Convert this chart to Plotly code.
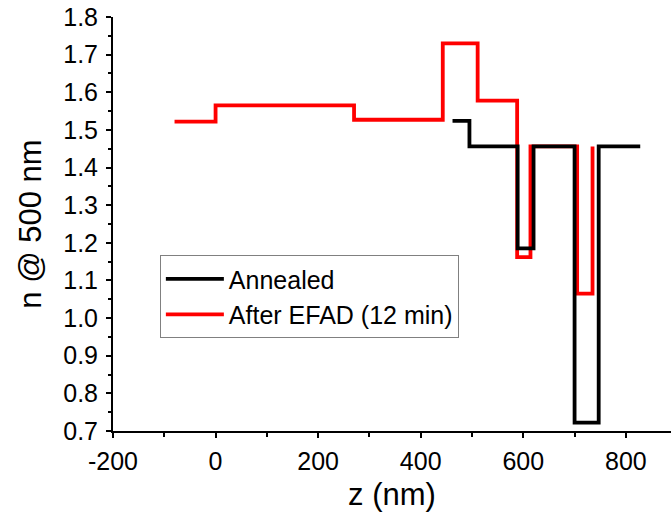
import plotly.graph_objects as go

# Refractive index profiles (step profiles) vs depth
z_efad = [-80, 0, 270, 443, 511, 588, 614, 705, 735]
n_efad = [1.522, 1.565, 1.527, 1.73, 1.578, 1.162, 1.456, 1.065, 1.456]

z_ann = [462, 495, 589, 620, 700, 747, 828]
n_ann = [1.524, 1.456, 1.185, 1.456, 0.722, 1.456, 1.456]

x_ticks = [-200, 0, 200, 400, 600, 800]
y_ticks = [0.7, 0.8, 0.9, 1.0, 1.1, 1.2, 1.3, 1.4, 1.5, 1.6, 1.7, 1.8]

font_family = "Liberation Sans, Arial, sans-serif"

fig = go.Figure()
fig.add_trace(go.Scatter(
    x=z_efad, y=n_efad, mode="lines", line=dict(shape="hv", color="#ff0000", width=3.8),
    name="After EFAD (12 min)", legendrank=2,
))
fig.add_trace(go.Scatter(
    x=z_ann, y=n_ann, mode="lines", line=dict(shape="hv", color="#000000", width=3.8),
    name="Annealed", legendrank=1,
))

fig.update_layout(
    width=671, height=523,
    margin=dict(l=113, r=0, t=17, b=92),
    paper_bgcolor="white", plot_bgcolor="white",
    font=dict(family=font_family, color="black", size=25),
    showlegend=True,
    legend=dict(
        x=0.084, y=0.425, xanchor="left", yanchor="top",
        bordercolor="#808080", borderwidth=1, bgcolor="white",
        font=dict(size=25, family=font_family), tracegroupgap=0,
        itemwidth=58,
    ),
    xaxis=dict(
        range=[-200, 888], tickvals=x_ticks, ticktext=[str(v) for v in x_ticks],
        showline=True, linecolor="black", linewidth=2, mirror=False,
        ticks="outside", ticklen=5, tickwidth=2, tickcolor="black",
        showgrid=False, zeroline=False,
        tickfont=dict(size=25), ticklabelstandoff=2,
        minor=dict(dtick=100, ticklen=4, tickwidth=1.5, tickcolor="black", showgrid=False),
        title=dict(text="z (nm)", font=dict(size=31), standoff=9),
    ),
    yaxis=dict(
        range=[0.7, 1.8], tickvals=y_ticks, ticktext=[f"{v:.1f}" for v in y_ticks],
        showline=True, linecolor="black", linewidth=2, mirror=False,
        ticks="outside", ticklen=5, tickwidth=2, tickcolor="black",
        showgrid=False, zeroline=False,
        tickfont=dict(size=25), ticklabelstandoff=3,
        minor=dict(dtick=0.05, tick0=0.7, ticklen=3, tickwidth=1.5, tickcolor="black", showgrid=False),
        title=dict(text="n @ 500 nm", font=dict(size=31), standoff=12),
    ),
)

fig.write_html("out.html")
